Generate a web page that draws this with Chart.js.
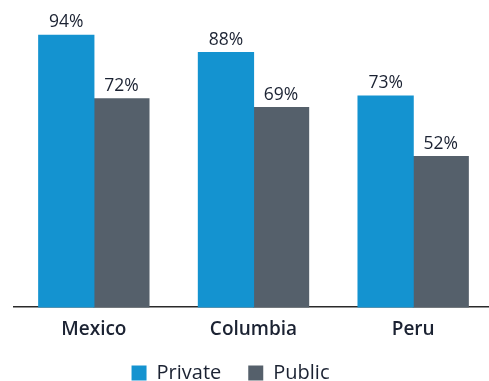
<!DOCTYPE html>
<html>
<head>
<meta charset="utf-8">
<script src="https://cdn.jsdelivr.net/npm/chart.js@4"></script>
<style>
  html, body { margin: 0; padding: 0; background: #fff; overflow: hidden; }
  #wrap { width: 489px; height: 381px; }
</style>
</head>
<body>
<div id="wrap"><canvas id="c" width="489" height="381"></canvas></div>
<script>
const categories = ["Mexico", "Columbia", "Peru"];
const privateValues = [94, 88, 73];
const publicValues = [72, 69, 52];
const seriesNames = ["Private", "Public"];

const FONT = "'Open Sans', sans-serif";
const TEXT = "#1b2232";

const LEGEND_PAD = 27;
const LEGEND_FONT = 20;

const valueLabels = {
  id: "valueLabels",
  afterDatasetsDraw(chart) {
    const ctx = chart.ctx;
    ctx.save();
    ctx.font = "17.5px " + FONT;
    ctx.fillStyle = TEXT;
    ctx.textAlign = "center";
    ctx.textBaseline = "alphabetic";
    chart.data.datasets.forEach((ds, di) => {
      const meta = chart.getDatasetMeta(di);
      meta.data.forEach((el, i) => {
        ctx.fillText(ds.data[i] + "%", el.x, el.y - 8);
      });
    });
    ctx.restore();
  }
};

// layout tweaks: widen the category axis slightly past the canvas edge, place legend row
const layoutTweaks = {
  id: "layoutTweaks",
  afterLayout(chart) {
    const xs = chart.scales.x;
    xs.right = xs.left + 479;
    xs.width = 479;
    xs.configure();
    const lg = chart.legend;
    if (!lg) return;
    const h = lg.height;
    lg.top = chart.chartArea.bottom + 29;
    lg.bottom = lg.top + h;
    lg.left -= 21;
    lg.right -= 21;
  }
};

new Chart(document.getElementById("c"), {
  type: "bar",
  data: {
    labels: categories,
    datasets: [
      { label: seriesNames[0], data: privateValues, backgroundColor: "#1493d0", borderWidth: 0, inflateAmount: 0.6, clip: false },
      { label: seriesNames[1], data: publicValues, backgroundColor: "#55606b", borderWidth: 0, inflateAmount: 0.6, clip: false }
    ]
  },
  options: {
    responsive: false,
    animation: false,
    devicePixelRatio: 1,
    layout: { padding: { top: 18, left: 14, right: 0, bottom: -13 } },
    datasets: { bar: { categoryPercentage: 0.69, barPercentage: 1.0 } },
    scales: {
      x: {
        grid: { display: false, drawTicks: false },
        border: { display: true, color: "#2a2a2a", width: 1.5 },
        ticks: { color: TEXT, font: { family: FONT, size: 19, weight: "600" }, padding: 11 },
        afterFit(s) { s.height = 30; }
      },
      y: { display: false, min: 0, max: 100 }
    },
    plugins: {
      legend: {
        position: "bottom",
        labels: {
          color: TEXT,
          font: { family: FONT, size: LEGEND_FONT },
          boxWidth: 15,
          boxHeight: 15,
          padding: LEGEND_PAD
        }
      },
      tooltip: { enabled: false }
    }
  },
  plugins: [valueLabels, layoutTweaks]
});
</script>
</body>
</html>
